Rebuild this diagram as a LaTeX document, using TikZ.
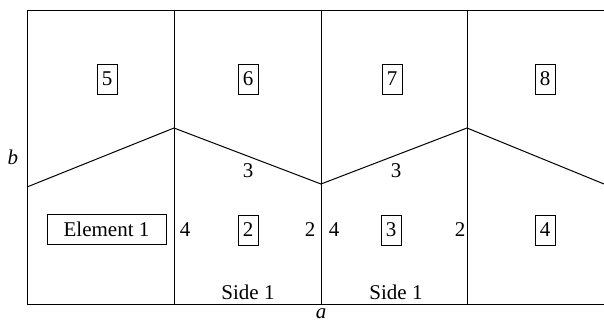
\documentclass[tikz,border=0pt]{standalone}
\usepackage{fontspec}
\setmainfont{Liberation Serif}
\begin{document}
\begin{tikzpicture}[x=1pt,y=-1pt,
  grid/.style={line width=1pt,black},
  lbl/.style={font=\fontsize{21}{23}\selectfont,inner sep=0pt},
  boxed/.style={draw,line width=0.7pt,font=\fontsize{21}{23}\selectfont,inner xsep=4pt,inner ysep=0pt,minimum height=30pt,minimum width=20pt}]
\useasboundingbox (0,0) rectangle (604,324);
% corners
\coordinate (tl) at (27,10);
\coordinate (tr) at (604,10);
\coordinate (bl) at (27,304);
\coordinate (br) at (604,304);
\coordinate (t1) at (174,10);
\coordinate (t2) at (321,10);
\coordinate (t3) at (467,10);
\coordinate (b1) at (174,304);
\coordinate (b2) at (321,304);
\coordinate (b3) at (467,304);
\coordinate (z0) at (27,187);
\coordinate (z1) at (174,128);
\coordinate (z2) at (321,184);
\coordinate (z3) at (467,128);
\coordinate (z4) at (604,184);
% grid
\draw[grid] (tr) -- (tl) -- (bl) -- (br);
\draw[grid] (t1) -- (b1);
\draw[grid] (t2) -- (b2);
\draw[grid] (t3) -- (b3);
\draw[grid] (z0) -- (z1) -- (z2) -- (z3) -- (z4);
% boxed labels
\node[boxed] (n5) at (107,79) {5};
\node[boxed] (n6) at (248,79) {6};
\node[boxed] (n7) at (392,79) {7};
\node[boxed] (n8) at (545,79) {8};
\node[boxed,minimum width=119pt] (n1) at (106.5,229.5) {Element 1};
\node[boxed] (n2) at (248,230) {2};
\node[boxed] (n3) at (391,230) {3};
\node[boxed] (n4) at (545,230) {4};
% plain labels
\node[lbl] (lb) at (13,157) {\itshape b};
\node[lbl] (la) at (321,314) {\itshape a};
\node[lbl] (s3a) at (248,171) {3};
\node[lbl] (s3b) at (396,171) {3};
\node[lbl] (s4a) at (185,230) {4};
\node[lbl] (s2a) at (310,230) {2};
\node[lbl] (s4b) at (334,230) {4};
\node[lbl] (s2b) at (460,230) {2};
\node[lbl] (side1) at (248,292) {Side 1};
\node[lbl] (side2) at (396,292) {Side 1};
\end{tikzpicture}
\end{document}
